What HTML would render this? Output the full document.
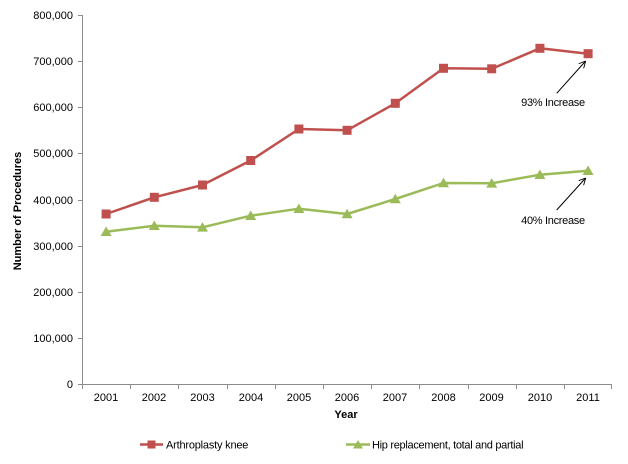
<!DOCTYPE html>
<html>
<head>
<meta charset="utf-8">
<style>
html,body{margin:0;padding:0;background:#fff;}
svg{display:block;}
text{font-family:"Liberation Sans",Arial,sans-serif;fill:#000;}
</style>
</head>
<body>
<svg width="628" height="464" viewBox="0 0 628 464" xmlns="http://www.w3.org/2000/svg">
<defs>
<marker id="ah" viewBox="0 0 10 10" refX="9" refY="5" markerWidth="7" markerHeight="7" orient="auto" markerUnits="userSpaceOnUse">
<path d="M0,0 L10,5 L0,10" fill="none" stroke="#000" stroke-width="1.3"/>
</marker>
</defs>
<!-- axes -->
<g stroke="#8c8c8c" stroke-width="1" fill="none">
<line x1="82.5" y1="15" x2="82.5" y2="384"/>
<line x1="82" y1="384.5" x2="612" y2="384.5"/>
<line x1="78" y1="15.5" x2="82" y2="15.5"/>
<line x1="78" y1="61.5" x2="82" y2="61.5"/>
<line x1="78" y1="107.5" x2="82" y2="107.5"/>
<line x1="78" y1="153.5" x2="82" y2="153.5"/>
<line x1="78" y1="200.5" x2="82" y2="200.5"/>
<line x1="78" y1="246.5" x2="82" y2="246.5"/>
<line x1="78" y1="292.5" x2="82" y2="292.5"/>
<line x1="78" y1="338.5" x2="82" y2="338.5"/>
<line x1="78" y1="384.5" x2="82" y2="384.5"/>
<line x1="82.5" y1="384" x2="82.5" y2="389"/>
<line x1="130.5" y1="384" x2="130.5" y2="389"/>
<line x1="178.5" y1="384" x2="178.5" y2="389"/>
<line x1="227.5" y1="384" x2="227.5" y2="389"/>
<line x1="275.5" y1="384" x2="275.5" y2="389"/>
<line x1="323.5" y1="384" x2="323.5" y2="389"/>
<line x1="371.5" y1="384" x2="371.5" y2="389"/>
<line x1="419.5" y1="384" x2="419.5" y2="389"/>
<line x1="468.5" y1="384" x2="468.5" y2="389"/>
<line x1="516.5" y1="384" x2="516.5" y2="389"/>
<line x1="564.5" y1="384" x2="564.5" y2="389"/>
<line x1="611.5" y1="384" x2="611.5" y2="389"/>
</g>
<!-- y labels -->
<g font-size="11" text-anchor="end">
<text x="73" y="19">800,000</text>
<text x="73" y="65">700,000</text>
<text x="73" y="111">600,000</text>
<text x="73" y="157">500,000</text>
<text x="73" y="204">400,000</text>
<text x="73" y="250">300,000</text>
<text x="73" y="296">200,000</text>
<text x="73" y="342">100,000</text>
<text x="73" y="388">0</text>
</g>
<!-- x labels -->
<g font-size="11" text-anchor="middle">
<text x="106" y="401">2001</text>
<text x="154" y="401">2002</text>
<text x="202.5" y="401">2003</text>
<text x="251" y="401">2004</text>
<text x="299" y="401">2005</text>
<text x="347" y="401">2006</text>
<text x="395" y="401">2007</text>
<text x="443.5" y="401">2008</text>
<text x="491.5" y="401">2009</text>
<text x="540" y="401">2010</text>
<text x="588" y="401">2011</text>
</g>
<text x="346" y="418" font-size="11" font-weight="bold" text-anchor="middle">Year</text>
<text transform="translate(21,211) rotate(-90)" font-size="11" font-weight="bold" text-anchor="middle">Number of Procedures</text>
<!-- knee series -->
<polyline fill="none" stroke="#C0504D" stroke-width="2.5" stroke-linejoin="round"
points="106.1,214 154.3,197.3 202.5,185 250.7,160.5 298.9,129 347.1,130.3 395.3,103.3 443.5,68.3 491.7,68.8 539.9,48.3 588.1,53.7"/>
<g fill="#C0504D">
<rect x="101.6" y="209.5" width="9" height="9"/>
<rect x="149.8" y="192.8" width="9" height="9"/>
<rect x="198" y="180.5" width="9" height="9"/>
<rect x="246.2" y="156" width="9" height="9"/>
<rect x="294.4" y="124.5" width="9" height="9"/>
<rect x="342.6" y="125.8" width="9" height="9"/>
<rect x="390.8" y="98.8" width="9" height="9"/>
<rect x="439" y="63.8" width="9" height="9"/>
<rect x="487.2" y="64.3" width="9" height="9"/>
<rect x="535.4" y="43.8" width="9" height="9"/>
<rect x="583.6" y="49.2" width="9" height="9"/>
</g>
<!-- hip series -->
<polyline fill="none" stroke="#9BBB59" stroke-width="2.5" stroke-linejoin="round"
points="106.1,231.7 154.3,225.7 202.5,227.3 250.7,215.7 298.9,208.7 347.1,214 395.3,199 443.5,183 491.7,183.3 539.9,174.7 588.1,170.7"/>
<g fill="#9BBB59">
<polygon points="100.6,236 111.6,236 106.1,226.5"/>
<polygon points="148.8,230 159.8,230 154.3,220.5"/>
<polygon points="197,231.6 208,231.6 202.5,222.1"/>
<polygon points="245.2,220 256.2,220 250.7,210.5"/>
<polygon points="293.4,213 304.4,213 298.9,203.5"/>
<polygon points="341.6,218.3 352.6,218.3 347.1,208.8"/>
<polygon points="389.8,203.3 400.8,203.3 395.3,193.8"/>
<polygon points="438,187.3 449,187.3 443.5,177.8"/>
<polygon points="486.2,187.6 497.2,187.6 491.7,178.1"/>
<polygon points="534.4,179 545.4,179 539.9,169.5"/>
<polygon points="582.6,175 593.6,175 588.1,165.5"/>
</g>
<!-- annotations -->
<line x1="556.7" y1="93.3" x2="585.2" y2="61.5" stroke="#000" stroke-width="1" marker-end="url(#ah)"/>
<text x="553" y="106" font-size="11" text-anchor="middle" letter-spacing="-0.3">93% Increase</text>
<line x1="556.7" y1="210" x2="585.2" y2="178.5" stroke="#000" stroke-width="1" marker-end="url(#ah)"/>
<text x="553" y="224" font-size="11" text-anchor="middle" letter-spacing="-0.3">40% Increase</text>
<!-- legend -->
<line x1="140" y1="444.5" x2="163" y2="444.5" stroke="#C0504D" stroke-width="2.5"/>
<rect x="147.5" y="440.5" width="8" height="8" fill="#C0504D"/>
<text x="166" y="448.5" font-size="11" letter-spacing="-0.2">Arthroplasty knee</text>
<line x1="346" y1="444.5" x2="370" y2="444.5" stroke="#9BBB59" stroke-width="2.5"/>
<polygon points="353,448.5 363,448.5 358,440" fill="#9BBB59"/>
<text x="372" y="448.5" font-size="11" letter-spacing="-0.3">Hip replacement, total and partial</text>
</svg>
</body>
</html>
